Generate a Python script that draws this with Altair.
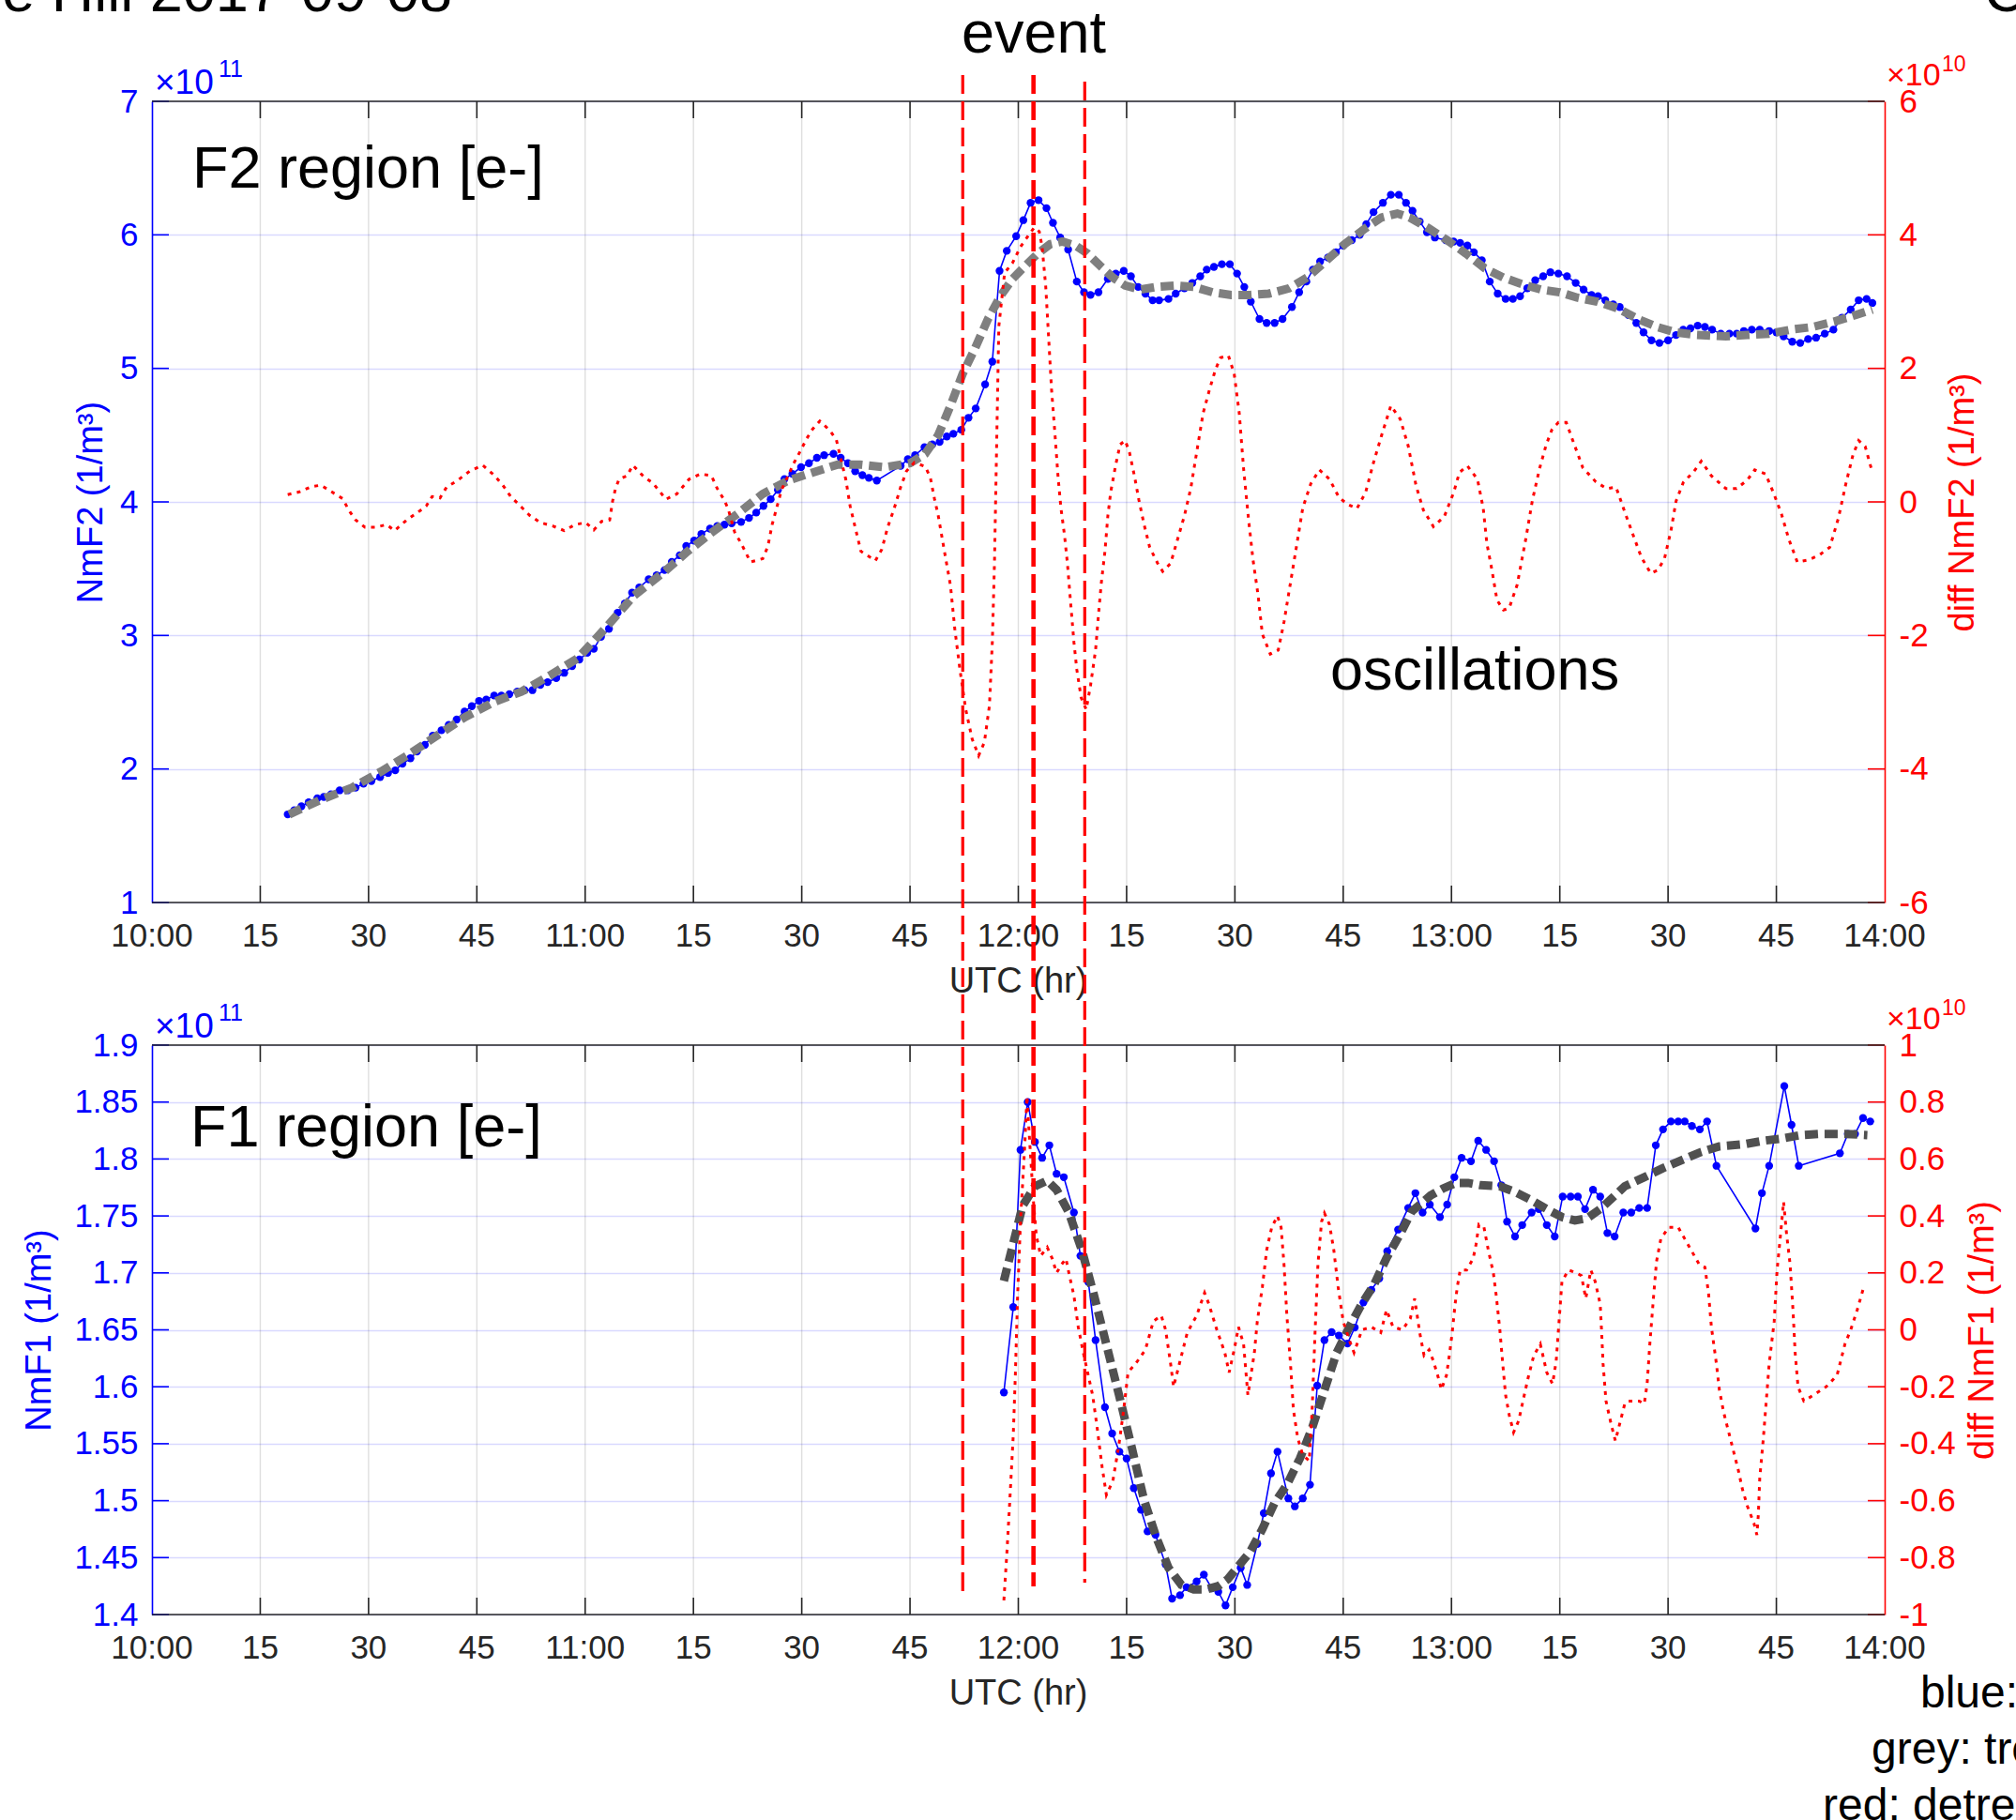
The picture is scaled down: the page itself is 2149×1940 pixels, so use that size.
import altair as alt
import pandas as pd

FONT = "Liberation Sans"
BLUE = "#0000ff"
RED = "#ff0000"
DARK = "#262626"

# ---------------- data (t = minutes after 10:00 UTC) ----------------
# F2 peak density, x1e11 1/m^3
F2_NE = [
    (18.8, 1.66), (19.7, 1.69), (20.7, 1.72), (21.7, 1.75), (22.9, 1.78), (23.8, 1.79), (24.8, 1.81), (26.0, 1.84), (27.1, 1.84), (28.2, 1.86),
    (29.3, 1.89), (30.4, 1.91), (31.6, 1.94), (32.7, 1.97), (33.7, 1.99), (34.7, 2.04), (35.8, 2.08), (36.7, 2.13), (37.8, 2.18), (38.9, 2.25),
    (40.1, 2.29), (41.1, 2.33), (42.2, 2.37), (43.3, 2.43), (44.3, 2.47), (45.3, 2.51), (46.3, 2.52), (47.4, 2.55), (48.4, 2.55), (49.5, 2.56),
    (50.6, 2.58), (51.6, 2.59), (52.7, 2.59), (53.8, 2.63), (54.8, 2.65), (56.0, 2.68), (57.1, 2.72), (58.2, 2.77), (59.2, 2.82), (60.3, 2.87),
    (61.2, 2.90), (62.2, 2.99), (63.3, 3.05), (64.5, 3.17), (65.5, 3.24), (66.5, 3.32), (67.5, 3.36), (68.8, 3.42), (69.9, 3.45), (71.0, 3.49),
    (72.0, 3.55), (73.1, 3.60), (74.0, 3.67), (75.1, 3.71), (76.1, 3.76), (77.3, 3.80), (78.3, 3.82), (79.3, 3.83), (80.3, 3.84), (81.6, 3.85),
    (82.7, 3.88), (83.7, 3.92), (84.7, 3.97), (85.7, 4.02), (86.7, 4.09), (87.6, 4.17), (88.7, 4.21), (89.9, 4.26), (91.0, 4.29), (92.1, 4.33),
    (93.1, 4.35), (94.4, 4.36), (95.4, 4.33), (96.4, 4.29), (97.4, 4.23), (98.4, 4.20), (99.3, 4.18), (100.4, 4.16), (103.7, 4.27), (104.7, 4.32),
    (105.7, 4.35), (107.0, 4.41), (108.1, 4.43), (109.1, 4.45), (110.1, 4.49), (111.0, 4.51), (112.1, 4.54), (113.1, 4.63), (114.1, 4.70), (115.4, 4.88),
    (116.4, 5.05), (117.4, 5.73), (118.4, 5.88), (119.7, 5.99), (120.7, 6.11), (121.7, 6.24), (122.8, 6.26), (123.9, 6.20), (124.8, 6.09), (125.8, 5.98),
    (126.9, 5.89), (128.1, 5.65), (129.1, 5.57), (130.0, 5.55), (131.1, 5.57), (132.4, 5.67), (133.5, 5.71), (134.6, 5.73), (135.6, 5.69), (136.6, 5.61),
    (137.6, 5.56), (138.6, 5.51), (139.5, 5.51), (140.8, 5.52), (141.8, 5.56), (143.0, 5.60), (144.1, 5.64), (145.2, 5.69), (146.1, 5.74), (147.1, 5.76),
    (148.2, 5.78), (149.3, 5.78), (150.3, 5.71), (151.3, 5.61), (152.2, 5.50), (153.4, 5.37), (154.4, 5.34), (155.5, 5.34), (156.6, 5.37), (157.9, 5.46),
    (158.9, 5.57), (159.9, 5.65), (160.8, 5.74), (161.8, 5.80), (162.9, 5.83), (164.0, 5.87), (165.0, 5.92), (166.2, 5.96), (167.3, 6.00), (168.2, 6.08),
    (169.2, 6.17), (170.5, 6.24), (171.6, 6.30), (172.7, 6.30), (173.7, 6.24), (174.6, 6.18), (175.6, 6.10), (176.6, 6.02), (177.7, 5.98), (179.2, 5.96),
    (180.3, 5.95), (181.2, 5.94), (182.2, 5.92), (183.1, 5.87), (184.2, 5.81), (185.3, 5.65), (186.4, 5.56), (187.5, 5.52), (188.5, 5.52), (189.5, 5.54),
    (190.5, 5.60), (191.6, 5.66), (192.7, 5.69), (193.7, 5.72), (194.8, 5.71), (196.0, 5.69), (197.2, 5.64), (198.3, 5.59), (199.4, 5.55), (200.3, 5.54),
    (201.3, 5.51), (202.4, 5.48), (203.3, 5.46), (204.5, 5.40), (205.6, 5.34), (206.6, 5.27), (207.7, 5.21), (208.8, 5.19), (210.0, 5.21), (211.1, 5.25),
    (212.1, 5.29), (213.1, 5.30), (214.1, 5.32), (215.1, 5.31), (216.1, 5.29), (217.3, 5.26), (218.5, 5.26), (219.5, 5.26), (220.5, 5.28), (221.6, 5.29),
    (222.7, 5.29), (224.0, 5.28), (225.0, 5.27), (226.0, 5.24), (227.2, 5.20), (228.3, 5.19), (229.4, 5.22), (230.5, 5.23), (231.7, 5.26), (232.9, 5.29),
    (234.1, 5.38), (235.3, 5.44), (236.4, 5.51), (237.5, 5.52), (238.3, 5.49),
]
F2_TREND = [
    (19.0, 1.66), (23.4, 1.77), (27.7, 1.86), (31.7, 1.98), (35.6, 2.11), (39.5, 2.25), (43.4, 2.39), (47.3, 2.50), (51.2, 2.58), (55.1, 2.70),
    (59.0, 2.83), (62.9, 3.06), (66.8, 3.30), (70.8, 3.47), (74.2, 3.63), (77.5, 3.77), (81.1, 3.91), (84.6, 4.06), (88.1, 4.16), (91.5, 4.22),
    (95.0, 4.28), (98.0, 4.28), (101.5, 4.26), (105.0, 4.29), (107.1, 4.36), (108.9, 4.50), (110.6, 4.72), (112.3, 4.96), (114.0, 5.15), (115.8, 5.37),
    (117.5, 5.54), (119.2, 5.67), (121.0, 5.77), (122.7, 5.86), (124.4, 5.93), (126.1, 5.95), (127.9, 5.92), (129.6, 5.86), (131.3, 5.77), (133.1, 5.68),
    (134.8, 5.62), (136.9, 5.59), (139.1, 5.61), (141.7, 5.62), (144.3, 5.61), (146.9, 5.57), (149.5, 5.55), (152.1, 5.55), (154.7, 5.56), (157.5, 5.60),
    (160.0, 5.68), (162.5, 5.80), (165.2, 5.93), (168.1, 6.05), (170.3, 6.13), (172.5, 6.16), (174.2, 6.13), (176.8, 6.05), (179.4, 5.96), (182.0, 5.86),
    (184.6, 5.75), (187.2, 5.68), (189.8, 5.63), (192.4, 5.59), (195.0, 5.57), (197.4, 5.53), (200.2, 5.50), (203.0, 5.45), (205.8, 5.37), (208.5, 5.31),
    (211.0, 5.27), (214.0, 5.25), (218.0, 5.24), (221.0, 5.25), (224.0, 5.26), (227.0, 5.29), (230.0, 5.31), (233.0, 5.35), (236.0, 5.40), (238.3, 5.44),
]
# detrended F2, x1e10 1/m^3
F2_DIFF = [
    (18.8, 0.11), (20.4, 0.15), (22.1, 0.23), (23.4, 0.25), (24.9, 0.15), (26.4, 0.05), (27.3, -0.13), (28.2, -0.27), (29.5, -0.38), (31.0, -0.38),
    (32.5, -0.34), (33.6, -0.43), (35.3, -0.27), (36.9, -0.15), (38.0, -0.06), (38.8, 0.08), (39.9, 0.06), (40.8, 0.22), (42.3, 0.32), (44.0, 0.46),
    (45.8, 0.55), (47.3, 0.41), (48.6, 0.25), (49.7, 0.08), (51.2, -0.08), (52.3, -0.20), (53.8, -0.31), (55.5, -0.36), (57.1, -0.43), (58.6, -0.34),
    (60.1, -0.31), (61.2, -0.42), (62.3, -0.29), (63.4, -0.27), (63.8, 0.01), (64.2, 0.20), (64.7, 0.34), (65.8, 0.39), (66.6, 0.55), (68.1, 0.38),
    (69.4, 0.28), (71.2, 0.04), (72.7, 0.12), (74.4, 0.34), (76.0, 0.42), (77.5, 0.39), (78.3, 0.20), (79.2, 0.04), (79.8, -0.10), (80.7, -0.45),
    (81.6, -0.62), (82.9, -0.90), (84.6, -0.85), (85.3, -0.67), (85.9, -0.34), (86.6, -0.06), (87.2, 0.18), (88.1, 0.39), (88.9, 0.58), (89.8, 0.76),
    (90.7, 0.95), (91.5, 1.09), (92.5, 1.21), (93.9, 1.07), (94.8, 0.93), (95.4, 0.65), (96.1, 0.34), (96.7, -0.06), (97.4, -0.38), (98.2, -0.74),
    (100.2, -0.88), (101.1, -0.71), (101.9, -0.38), (102.8, -0.10), (103.7, 0.22), (104.5, 0.46), (105.6, 0.59), (107.1, 0.53), (107.8, 0.37), (108.4, 0.04),
    (108.9, -0.20), (109.7, -0.70), (110.6, -1.25), (111.2, -1.90), (111.9, -2.50), (112.7, -3.10), (113.6, -3.55), (114.5, -3.80), (115.3, -3.60), (116.0, -3.05),
    (116.4, -2.10), (116.7, -0.90), (116.9, 0.27), (117.1, 1.45), (117.3, 2.63), (118.1, 3.43), (119.2, 3.58), (120.3, 3.82), (121.4, 3.99), (122.2, 4.11),
    (122.9, 4.05), (123.3, 3.82), (123.8, 3.22), (124.2, 2.46), (124.6, 1.69), (125.1, 0.98), (125.5, 0.38), (125.9, -0.09), (126.4, -0.50), (126.8, -0.92),
    (127.2, -1.45), (127.7, -2.10), (128.1, -2.51), (128.7, -2.93), (129.4, -3.11), (130.0, -2.75), (130.7, -2.22), (131.1, -1.69), (131.5, -1.21), (132.0, -0.74),
    (132.4, -0.21), (132.8, 0.15), (133.5, 0.56), (134.1, 0.86), (134.8, 0.92), (135.4, 0.74), (136.1, 0.38), (136.7, 0.03), (137.4, -0.33), (138.2, -0.68),
    (139.3, -0.92), (140.0, -1.04), (141.1, -0.92), (141.9, -0.62), (143.0, -0.21), (143.9, 0.21), (144.7, 0.74), (145.6, 1.33), (146.5, 1.69), (147.3, 1.98),
    (148.0, 2.16), (149.1, 2.19), (149.9, 1.92), (150.6, 1.33), (151.2, 0.50), (151.9, -0.27), (152.5, -0.86), (153.2, -1.39), (153.8, -1.98), (154.9, -2.28),
    (156.0, -2.22), (156.8, -1.80), (157.7, -1.21), (158.6, -0.62), (159.4, -0.09), (160.5, 0.27), (161.7, 0.48), (163.1, 0.34), (164.4, 0.07), (165.5, -0.03),
    (166.9, -0.10), (168.1, 0.14), (169.2, 0.59), (170.3, 0.99), (171.6, 1.44), (172.9, 1.24), (174.0, 0.84), (175.1, 0.24), (176.1, -0.12), (177.5, -0.37),
    (179.0, -0.22), (180.3, 0.14), (181.1, 0.44), (182.2, 0.54), (183.6, 0.34), (184.4, -0.10), (184.9, -0.62), (185.6, -1.02), (186.3, -1.47), (187.2, -1.62),
    (188.0, -1.59), (189.1, -1.24), (190.3, -0.55), (191.2, 0.02), (192.2, 0.50), (193.1, 0.85), (193.9, 1.08), (194.8, 1.19), (195.9, 1.19), (196.7, 0.95),
    (198.2, 0.51), (200.0, 0.30), (201.5, 0.20), (202.8, 0.22), (203.9, -0.12), (205.0, -0.45), (206.3, -0.83), (207.6, -1.07), (208.6, -1.02), (209.5, -0.85),
    (210.4, -0.43), (211.1, 0.01), (212.1, 0.29), (213.6, 0.46), (214.6, 0.61), (216.0, 0.39), (218.0, 0.20), (219.5, 0.20), (221.0, 0.33), (222.0, 0.48),
    (223.5, 0.42), (224.7, 0.11), (225.7, -0.18), (226.7, -0.55), (227.9, -0.90), (229.4, -0.87), (230.9, -0.80), (232.4, -0.68), (233.6, -0.24), (234.6, 0.26),
    (235.6, 0.70), (236.4, 0.92), (237.3, 0.83), (238.2, 0.48),
]
# F1 peak density, x1e11 1/m^3
F1_NE = [
    (118.0, 1.595), (119.3, 1.670), (120.3, 1.808), (121.3, 1.850), (122.3, 1.815), (123.3, 1.801), (124.3, 1.812), (125.3, 1.787), (126.3, 1.784), (127.7, 1.753),
    (128.6, 1.715), (129.7, 1.692), (130.7, 1.641), (132.0, 1.582), (133.0, 1.559), (134.0, 1.543), (135.0, 1.537), (136.0, 1.511), (137.0, 1.492), (137.9, 1.473),
    (139.0, 1.470), (140.4, 1.444), (141.3, 1.414), (142.4, 1.417), (143.3, 1.424), (144.7, 1.429), (145.7, 1.435), (146.8, 1.423), (147.7, 1.420), (148.7, 1.408),
    (149.7, 1.424), (150.8, 1.441), (151.7, 1.426), (153.1, 1.462), (154.0, 1.489), (155.0, 1.524), (155.9, 1.543), (157.4, 1.502), (158.3, 1.495), (159.4, 1.502),
    (160.4, 1.514), (161.4, 1.601), (162.4, 1.641), (163.4, 1.648), (164.4, 1.645), (165.6, 1.638), (166.6, 1.652), (167.8, 1.674), (168.9, 1.685), (170.0, 1.695),
    (171.1, 1.719), (172.6, 1.738), (174.0, 1.757), (175.0, 1.770), (176.0, 1.753), (177.0, 1.760), (178.4, 1.749), (179.4, 1.760), (180.4, 1.784), (181.4, 1.801),
    (182.7, 1.798), (183.7, 1.816), (184.8, 1.808), (185.9, 1.798), (186.9, 1.777), (187.7, 1.745), (188.8, 1.732), (189.8, 1.742), (191.1, 1.753), (192.1, 1.756),
    (193.2, 1.742), (194.3, 1.732), (195.4, 1.767), (196.5, 1.767), (197.5, 1.767), (198.5, 1.756), (199.6, 1.773), (200.6, 1.767), (201.6, 1.735), (202.6, 1.732),
    (203.8, 1.753), (204.9, 1.753), (206.0, 1.757), (207.1, 1.757), (208.3, 1.812), (209.3, 1.826), (210.4, 1.833), (211.4, 1.833), (212.3, 1.833), (213.3, 1.829),
    (214.4, 1.826), (215.4, 1.833), (216.7, 1.794), (222.1, 1.739), (223.0, 1.770), (224.0, 1.794), (226.1, 1.864), (227.1, 1.830), (228.1, 1.794), (233.8, 1.805),
    (234.9, 1.822), (235.9, 1.822), (237.0, 1.836), (238.0, 1.833),
]
F1_TREND = [
    (118.0, 1.693), (119.3, 1.726), (120.6, 1.759), (122.3, 1.776), (124.0, 1.781), (125.3, 1.773), (127.0, 1.753), (128.8, 1.720), (130.5, 1.680), (132.2, 1.637),
    (133.9, 1.594), (135.7, 1.547), (137.4, 1.501), (139.1, 1.468), (140.8, 1.441), (142.6, 1.426), (144.3, 1.422), (146.0, 1.422), (147.7, 1.425), (149.0, 1.431),
    (150.3, 1.441), (152.1, 1.455), (153.8, 1.475), (155.5, 1.498), (157.2, 1.514), (159.0, 1.537), (160.7, 1.564), (162.4, 1.597), (164.1, 1.630), (165.9, 1.653),
    (167.6, 1.673), (169.3, 1.690), (171.0, 1.713), (172.8, 1.733), (174.5, 1.754), (176.2, 1.763), (177.1, 1.768), (178.8, 1.774), (180.6, 1.779), (182.3, 1.779),
    (184.0, 1.777), (186.7, 1.776), (188.8, 1.771), (191.0, 1.764), (193.2, 1.756), (195.3, 1.749), (197.1, 1.746), (198.8, 1.748), (200.6, 1.756), (202.3, 1.766),
    (204.0, 1.776), (206.7, 1.784), (209.3, 1.792), (211.9, 1.799), (214.5, 1.806), (217.1, 1.811), (220.6, 1.813), (223.2, 1.816), (225.8, 1.818), (228.4, 1.821),
    (231.0, 1.822), (234.5, 1.822), (237.6, 1.821),
]
# detrended F1, x1e10 1/m^3
F1_DIFF = [
    (118.0, -0.95), (118.4, -0.79), (118.8, -0.61), (119.3, -0.37), (119.6, -0.15), (119.9, 0.12), (120.3, 0.38), (120.9, 0.65), (121.2, 0.82), (121.6, 0.65),
    (122.1, 0.45), (122.5, 0.33), (123.1, 0.26), (124.0, 0.29), (124.7, 0.25), (125.3, 0.20), (126.0, 0.23), (126.6, 0.25), (127.0, 0.20), (127.7, 0.12),
    (128.3, 0.01), (129.0, -0.08), (129.6, -0.15), (130.3, -0.23), (130.9, -0.34), (131.6, -0.48), (132.2, -0.58), (133.1, -0.53), (133.9, -0.41), (134.6, -0.28),
    (135.2, -0.15), (136.5, -0.11), (137.6, -0.07), (138.7, 0.03), (139.8, 0.05), (140.4, 0.00), (141.1, -0.12), (141.5, -0.20), (142.3, -0.12), (143.4, -0.01),
    (144.7, 0.05), (145.8, 0.13), (146.4, 0.09), (147.5, 0.00), (148.6, -0.08), (149.2, -0.15), (149.9, -0.07), (150.5, 0.01), (151.2, -0.05), (151.8, -0.23),
    (152.7, -0.08), (153.1, 0.03), (153.8, 0.15), (154.4, 0.28), (155.1, 0.36), (155.9, 0.40), (156.4, 0.36), (156.8, 0.23), (157.2, 0.05), (157.7, -0.12),
    (158.1, -0.28), (158.7, -0.38), (159.4, -0.44), (160.3, -0.46), (160.7, -0.28), (161.1, -0.01), (161.5, 0.23), (162.0, 0.38), (162.4, 0.41), (163.1, 0.37),
    (163.7, 0.28), (164.3, 0.15), (165.0, 0.03), (165.9, -0.04), (166.5, -0.08), (167.6, 0.00), (168.9, 0.01), (170.2, -0.01), (171.0, 0.07), (171.9, 0.01),
    (173.2, 0.00), (174.3, 0.04), (174.9, 0.11), (175.6, -0.01), (176.2, -0.09), (176.9, -0.07), (177.5, -0.11), (178.2, -0.17), (178.6, -0.21), (179.3, -0.16),
    (179.7, -0.09), (180.1, -0.01), (180.5, 0.09), (180.8, 0.15), (181.2, 0.21), (182.1, 0.21), (183.0, 0.25), (183.4, 0.30), (183.8, 0.37), (184.5, 0.36),
    (185.1, 0.28), (185.8, 0.20), (186.2, 0.12), (186.7, 0.00), (187.1, -0.12), (187.5, -0.23), (188.0, -0.30), (188.6, -0.36), (189.3, -0.32), (189.9, -0.25),
    (190.6, -0.17), (191.4, -0.09), (192.3, -0.05), (193.2, -0.15), (194.0, -0.19), (194.5, -0.11), (194.9, 0.03), (195.3, 0.17), (196.2, 0.21), (197.3, 0.20),
    (198.0, 0.19), (198.6, 0.11), (199.3, 0.21), (199.9, 0.17), (200.6, 0.09), (200.8, -0.01), (201.0, -0.12), (201.4, -0.25), (202.1, -0.33), (202.7, -0.39),
    (203.2, -0.34), (204.0, -0.26), (204.5, -0.25), (206.0, -0.25), (206.7, -0.26), (207.1, -0.19), (207.5, -0.04), (208.0, 0.12), (208.4, 0.24), (209.0, 0.32),
    (210.1, 0.36), (211.4, 0.36), (212.3, 0.32), (213.2, 0.28), (214.3, 0.23), (215.1, 0.22), (215.6, 0.13), (216.0, 0.01), (216.7, -0.12), (217.1, -0.21),
    (217.7, -0.29), (218.4, -0.36), (219.0, -0.42), (219.7, -0.49), (220.3, -0.56), (221.0, -0.62), (221.9, -0.68), (222.3, -0.72), (222.5, -0.65), (222.7, -0.52),
    (223.2, -0.38), (223.6, -0.25), (224.0, -0.12), (224.7, 0.03), (225.1, 0.21), (225.6, 0.34), (226.0, 0.45), (226.4, 0.34), (226.9, 0.23), (227.3, 0.07),
    (227.6, -0.08), (228.0, -0.20), (228.8, -0.25), (230.1, -0.23), (231.9, -0.20), (233.4, -0.16), (234.5, -0.05), (235.3, 0.00), (236.2, 0.07), (237.1, 0.15),
]
EVENT_T = [112.3, 122.1, 129.2]          # event markers (minutes after 10:00)
X_TICKS = list(range(0, 241, 15))
X_TICK_LABELS = ["10:00", "15", "30", "45", "11:00", "15", "30", "45", "12:00",
                 "15", "30", "45", "13:00", "15", "30", "45", "14:00"]
F2_LEFT_TICKS = [1, 2, 3, 4, 5, 6, 7]
F2_RIGHT_TICKS = [-6, -4, -2, 0, 2, 4, 6]
F1_LEFT_TICKS = [1.4, 1.45, 1.5, 1.55, 1.6, 1.65, 1.7, 1.75, 1.8, 1.85, 1.9]
F1_RIGHT_TICKS = [-1, -0.8, -0.6, -0.4, -0.2, 0, 0.2, 0.4, 0.6, 0.8, 1]

# ---------------- layout (pixels) ----------------
W, H1, H2, GAP = 1847, 854, 607, 152
PLOT_LEFT, PLOT_TOP = 162, 108
CANVAS_W, CANVAS_H = 2149, 1940
M = 400
TICK = 18

xscale = alt.Scale(domain=[0, 240], nice=False, zero=False)


def yaxis(orient, ticks, fmt, title, title_x, H, color, grid):
    return alt.Axis(
        orient=orient, values=ticks, format=fmt, labelExpr="replace(datum.label, '\u2212', '-')",
        grid=grid, gridColor=color, gridOpacity=0.15, gridWidth=1.4, ticks=False,
        domainColor=color, domainWidth=1.6, labelColor=color, labelFont=FONT, labelFontSize=35,
        labelPadding=15, labelFlush=False, labelOverlap=False, title=title, titleColor=color,
        titleFont=FONT, titleFontSize=38, titleFontWeight="normal", titleAngle=270,
        titleX=title_x, titleY=H / 2, titleAlign="center", titleBaseline="middle",
    )


def text(s, x, y, size=63, color="black", align="left"):
    return alt.Chart(pd.DataFrame({"s": [s]})).mark_text(
        align=align, baseline="alphabetic", fontSize=size, font=FONT, color=color
    ).encode(x=alt.value(x), y=alt.value(y), text="s:N")


def panel(ne, trend, diff, H, ldom, lticks, lfmt, ltitle, ltx, rdom, rticks, rfmt, rtitle, rtx,
          trend_color, extras):
    yl = alt.Scale(domain=ldom, nice=False, zero=False)
    yr = alt.Scale(domain=rdom, nice=False, zero=False)
    ne_df = pd.DataFrame(ne, columns=["t", "v"])
    tr_df = pd.DataFrame(trend, columns=["t", "v"])
    df_df = pd.DataFrame(diff, columns=["t", "d"])
    x_t = alt.X("t:Q", scale=xscale, axis=None)
    x_tick = alt.X("tick:Q", scale=xscale, axis=None)
    xt_all = pd.DataFrame({"tick": X_TICKS, "label": X_TICK_LABELS})
    xt_in = pd.DataFrame({"tick": X_TICKS[1:-1]})

    # time axis drawn from its tick table: grid, inward ticks, labels, title, frame lines
    xgrid = alt.Chart(xt_in).mark_rule(color=DARK, opacity=0.15, strokeWidth=1.4).encode(
        x=x_tick, y=alt.value(0), y2=alt.value(H)
    )
    xlabels = alt.Chart(xt_all).mark_text(
        align="center", baseline="alphabetic", fontSize=35, font=FONT, color=DARK
    ).encode(x=x_tick, y=alt.value(H + 47), text="label:N")
    xtitle = text("UTC (hr)", W / 2, H + 96, size=38, color=DARK, align="center")
    xb = alt.Chart(xt_in).mark_rule(color=DARK, strokeWidth=1.6).encode(
        x=x_tick, y=alt.value(H - TICK), y2=alt.value(H)
    )
    xtop = alt.Chart(xt_in).mark_rule(color=DARK, strokeWidth=1.6).encode(
        x=x_tick, y=alt.value(0), y2=alt.value(TICK)
    )
    frame = pd.DataFrame({"b": [0]})
    border_top = alt.Chart(frame).mark_rule(color=DARK, strokeWidth=1.6).encode(
        x=alt.value(0), x2=alt.value(W), y=alt.value(0)
    )
    border_bot = alt.Chart(frame).mark_rule(color=DARK, strokeWidth=1.6).encode(
        x=alt.value(0), x2=alt.value(W), y=alt.value(H)
    )

    blue = alt.Chart(ne_df).mark_line(color=BLUE, strokeWidth=1.6).encode(
        x=x_t,
        y=alt.Y("v:Q", scale=yl, axis=yaxis("left", lticks, lfmt, ltitle, ltx, H, BLUE, True)),
    )
    pts = alt.Chart(ne_df).mark_circle(color=BLUE, size=70, opacity=1).encode(
        x=x_t, y=alt.Y("v:Q", scale=yl, axis=None)
    )
    grey = alt.Chart(tr_df).mark_line(color=trend_color, strokeWidth=9, strokeDash=[14, 7]).encode(
        x=x_t, y=alt.Y("v:Q", scale=yl, axis=None)
    )
    lt = alt.Chart(pd.DataFrame({"v": lticks})).mark_rule(color=BLUE, strokeWidth=1.6).encode(
        y=alt.Y("v:Q", scale=yl, axis=None), x=alt.value(0), x2=alt.value(TICK)
    )
    red = alt.Chart(df_df).mark_line(color=RED, strokeWidth=3, strokeDash=[4, 6]).encode(
        x=x_t,
        y=alt.Y("d:Q", scale=yr, axis=yaxis("right", rticks, rfmt, rtitle, rtx, H, RED, False)),
    )
    rt = alt.Chart(pd.DataFrame({"d": rticks})).mark_rule(color=RED, strokeWidth=1.6).encode(
        y=alt.Y("d:Q", scale=yr, axis=None), x=alt.value(W - TICK), x2=alt.value(W)
    )
    layers = [xgrid, blue, pts, grey, lt, red, rt, xb, xtop, border_top, border_bot,
              xlabels, xtitle] + extras
    return alt.layer(*layers).resolve_scale(y="independent").properties(width=W, height=H)


# invisible frame that fixes the canvas to exactly 2149 x 1940
anchor = alt.Chart(pd.DataFrame({"a": [0]})).mark_rule(opacity=0, strokeWidth=0).encode(
    x=alt.value(-(PLOT_LEFT + M)), x2=alt.value(CANVAS_W - PLOT_LEFT + M),
    y=alt.value(-(PLOT_TOP + M)), y2=alt.value(CANVAS_H - PLOT_TOP + M),
)

top_extras = [
    text("F2 region [e-]", 43, 92),
    text("oscillations", 1256, 627),
    text("event", 940, -52, align="center"),
    text("Millstone Hill 2017-09-08", 320, -96, align="right"),
    text("C", 1953, -96),
    text("×10", 3, -8, size=37, color=BLUE),
    text("11", 71, -26, size=25, color=BLUE),
    text("×10", 1849, -17, size=34, color=RED),
    text("10", 1908, -32, size=23, color=RED),
    anchor,
]

B_OFF = PLOT_TOP + H1 + GAP  # canvas y of bottom panel top (1114)
event_layers = []
for i, t in enumerate(EVENT_T):
    y_top = [80, 80, 87][i] - B_OFF
    y_bot = [1704, 1691, 1687][i] - B_OFF
    event_layers.append(
        alt.Chart(pd.DataFrame({"t": [t]})).mark_rule(
            color=RED, strokeWidth=[3.2, 4.6, 3.2][i], strokeDash=[20, 8]
        ).encode(x=alt.X("t:Q", scale=xscale, axis=None), y=alt.value(y_top), y2=alt.value(y_bot))
    )

bottom_extras = [
    text("F1 region [e-]", 41, 108),
    text("×10", 3, -8, size=37, color=BLUE),
    text("11", 71, -26, size=25, color=BLUE),
    text("×10", 1849, -17, size=34, color=RED),
    text("10", 1908, -32, size=23, color=RED),
    text("blue: data", 1885, 706, size=48),
    text("grey: trend", 1833, 766, size=48),
    text("red: detrended", 1781, 826, size=48),
] + event_layers

top = panel(F2_NE, F2_TREND, F2_DIFF, H1, [1, 7], F2_LEFT_TICKS, "d", "NmF2 (1/m³)", -65,
            [-6, 6], F2_RIGHT_TICKS, "d", "diff NmF2 (1/m³)", 83, "#7f7f7f", top_extras)
bottom = panel(F1_NE, F1_TREND, F1_DIFF, H2, [1.4, 1.9], F1_LEFT_TICKS, ".2~f", "NmF1 (1/m³)", -120,
               [-1, 1], F1_RIGHT_TICKS, ".1~f", "diff NmF1 (1/m³)", 104, "#505050", bottom_extras)

chart = alt.vconcat(top, bottom, spacing=GAP, bounds="flush").properties(
    padding={"left": -M, "right": -M, "top": -M, "bottom": -M},
    autosize=alt.AutoSizeParams(type="pad"),
    background="white",
).configure_view(stroke=None)

chart.save("out.html", embed_options={"renderer": "svg", "actions": False})
